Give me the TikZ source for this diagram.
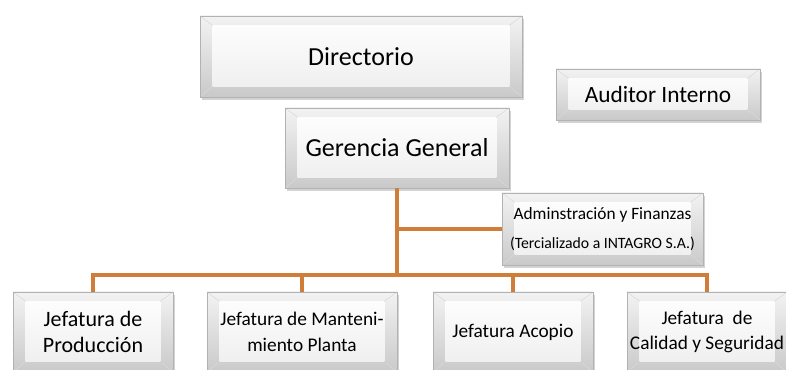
\documentclass[tikz,border=0pt]{standalone}
\usepackage{fontspec}
\setmainfont{Carlito}
\usetikzlibrary{shadows}
\definecolor{naranja}{RGB}{208,125,58}

\tikzset{
  caja/.style 2 args={draw=gray!60, thin, top color=gray!10, bottom color=gray!42,
    minimum width=#1*0.75pt, minimum height=#2*0.75pt, inner sep=0pt, align=center,
    drop shadow={opacity=.35, shadow xshift=1.5pt, shadow yshift=-2pt},
    path picture={
      \shade[top color=white, bottom color=gray!14]
        ([shift={(9.5pt,-7pt)}]path picture bounding box.north west) rectangle
        ([shift={(-9.5pt,8pt)}]path picture bounding box.south east);
      \draw[gray!30]
        (path picture bounding box.north west) -- ([shift={(9.5pt,-7pt)}]path picture bounding box.north west)
        (path picture bounding box.north east) -- ([shift={(-9.5pt,-7pt)}]path picture bounding box.north east)
        (path picture bounding box.south west) -- ([shift={(9.5pt,8pt)}]path picture bounding box.south west)
        (path picture bounding box.south east) -- ([shift={(-9.5pt,8pt)}]path picture bounding box.south east);
    }},
  enlace/.style={naranja, line width=3pt}
}

\begin{document}
\begin{tikzpicture}[x=0.75pt,y=-0.75pt]
\clip (0,0) rectangle (786,370);
% upper levels
\node[caja={322}{81}, font=\fontsize{19.5}{22}\selectfont] (dir) at (361,56.5) {Directorio};
\node[caja={204}{51}, font=\fontsize{17.5}{20}\selectfont] (aud) at (658,94.5) {Auditor Interno};
\node[caja={224}{80}, font=\fontsize{19.5}{22}\selectfont] (ger) at (397,148) {Gerencia General};
\node[caja={201}{72}, font=\fontsize{13}{22}\selectfont] (adm) at (602.5,229)
  {Adminstración y Finanzas\\{\fontsize{11.8}{13}\selectfont(Tercializado a INTAGRO S.A.)}};
% jefaturas
\node[caja={160}{80}, font=\fontsize{16.5}{20}\selectfont] (prod) at (93,332) {Jefatura de\\Producción};
\node[caja={190}{80}, font=\fontsize{14.5}{19}\selectfont] (mant) at (302,332) {Jefatura de Manteni-\\miento Planta};
\node[caja={160}{80}, font=\fontsize{14.5}{19}\selectfont] (acop) at (513,332) {Jefatura Acopio};
\node[caja={160}{80}, font=\fontsize{14.5}{19}\selectfont] (cal) at (707,332) {Jefatura~ de\\Calidad y Seguridad};
% connectors
\coordinate (bus) at (397,275);
\draw[enlace] (ger.south |- adm.west) -- (adm.west);
\foreach \j in {prod,mant,acop,cal}
  \draw[enlace] (ger.south) -- (bus) -| (\j.north);
\end{tikzpicture}
\end{document}
